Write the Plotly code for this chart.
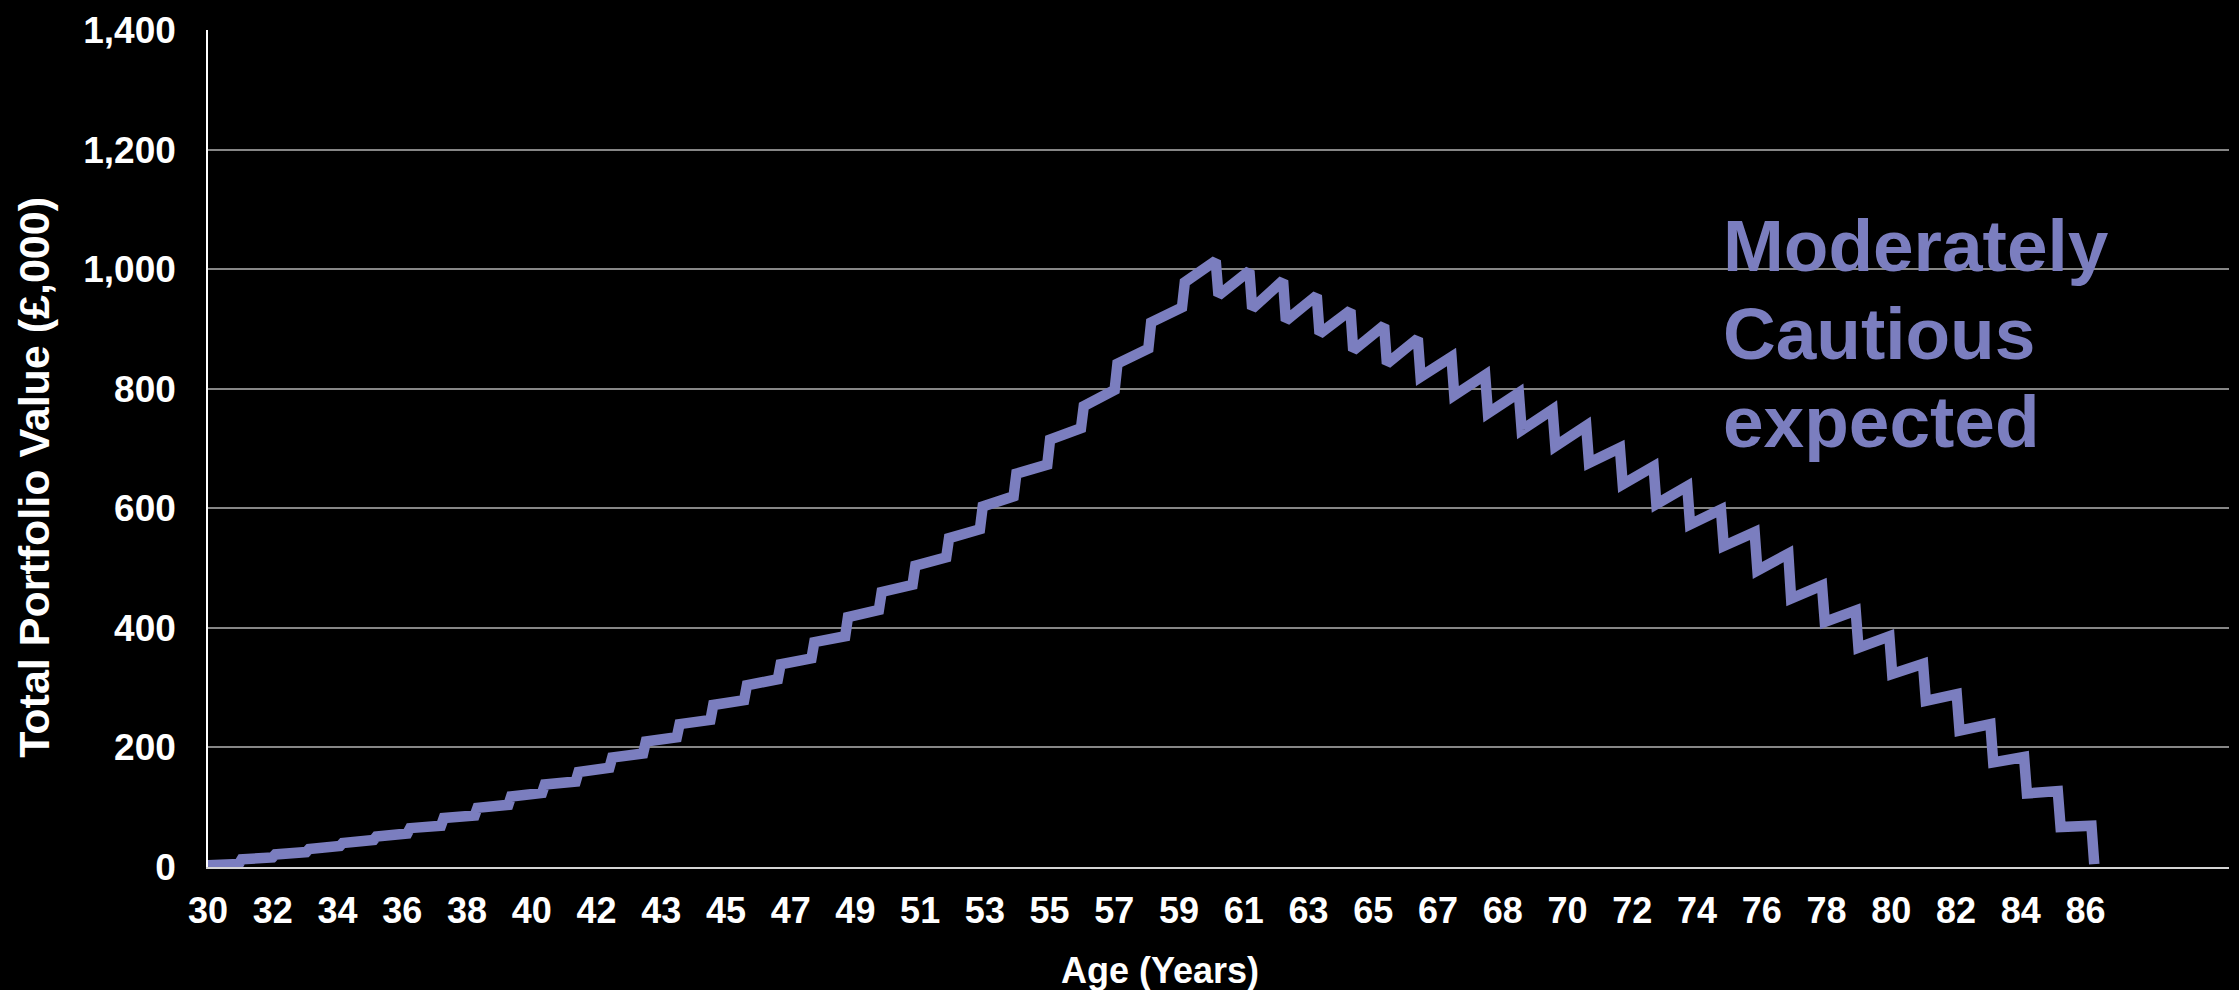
import plotly.graph_objects as go

# Portfolio value (£,000) for each year of age: value just after the annual
# contribution / withdrawal, and value at the end of that year.
ages = list(range(30, 86))
year_start = [
    3, 13, 21, 30, 40, 51, 65, 82, 99, 118,
    138, 159, 183, 210, 239, 271, 304, 339, 376, 418,
    460, 504, 550, 603, 658, 715, 771, 842, 911, 978,
    956, 934, 914, 892, 864, 842, 820, 789, 759, 731,
    704, 676, 640, 607, 573, 537, 496, 449, 410, 367,
    323, 278, 228, 175, 123, 67,
]
year_end = [
    5, 16, 25, 35, 45, 56, 69, 86, 104, 124,
    143, 166, 190, 217, 246, 279, 314, 349, 386, 430,
    472, 518, 565, 620, 673, 734, 798, 867, 936, 1014,
    997, 981, 956, 931, 906, 884, 853, 823, 793, 765,
    738, 701, 670, 637, 598, 560, 524, 471, 429, 386,
    340, 289, 239, 184, 127, 69,
]
final_age = 86
final_value = 5

# Category-axis labels shown along the age axis
tick_labels = ["30", "32", "34", "36", "38", "40", "42", "43", "45", "47",
               "49", "51", "53", "55", "57", "59", "61", "63", "65", "67",
               "68", "70", "72", "74", "76", "78", "80", "82", "84", "86"]
y_ticks = [0, 200, 400, 600, 800, 1000, 1200, 1400]

# Series caption, one line per entry
caption_lines = ["Moderately", "Cautious", "expected"]

LINE = "#7b7ebf"
FONT = "Liberation Sans, Arial, sans-serif"
LABEL_STEP = 1.922  # years between successive age labels

# Monthly path: growth over the year, then a one-month jump at each birthday
xs, ys = [], []
for a, s, e in zip(ages, year_start, year_end):
    xs += [a, a + 11 / 12]
    ys += [s, e]
xs.append(final_age)
ys.append(final_value)

fig = go.Figure()
fig.add_trace(go.Scatter(
    x=xs, y=ys, mode="lines",
    line=dict(color=LINE, width=10.5),
    hoverinfo="skip", showlegend=False,
))

annotations = [
    dict(
        text="Age (Years)", xref="paper", yref="paper",
        x=0.471, y=-0.124, xanchor="center", yanchor="middle",
        showarrow=False,
        font=dict(family=FONT, size=36, color="white", weight="bold"),
    ),
    dict(
        text="Total Portfolio Value (£,000)", xref="paper", yref="paper",
        x=-0.0862, y=0.466, xanchor="center", yanchor="middle",
        textangle=-90, showarrow=False,
        font=dict(family=FONT, size=43, color="white", weight="bold"),
    ),
]
for line_text, ypos in zip(caption_lines, [0.743, 0.637, 0.532]):
    annotations.append(dict(
        text=line_text, xref="paper", yref="paper",
        x=0.7485, y=ypos, xanchor="left", yanchor="middle",
        align="left", showarrow=False,
        font=dict(family=FONT, size=73, color=LINE, weight="bold"),
    ))

fig.update_layout(
    width=2239, height=990,
    margin=dict(l=208, r=10, t=26, b=123),
    paper_bgcolor="black", plot_bgcolor="black",
    font=dict(family=FONT, color="white", size=36, weight="bold"),
    xaxis=dict(
        range=[30, 90],
        tickvals=[30 + i * LABEL_STEP for i in range(len(tick_labels))],
        ticktext=tick_labels,
        showgrid=False, zeroline=False,
        showline=True, linecolor="#d4d4d4", linewidth=2,
        ticks="outside", ticklen=11, tickcolor="rgba(0,0,0,0)",
        tickfont=dict(family=FONT, size=36, color="white", weight="bold"),
        layer="below traces",
    ),
    yaxis=dict(
        range=[0, 1400],
        tickvals=y_ticks,
        tickformat=",d",
        showgrid=True, gridcolor="#868686", gridwidth=1.5,
        zeroline=False,
        showline=True, linecolor="white", linewidth=1.5,
        ticks="outside", ticklen=23, tickcolor="rgba(0,0,0,0)",
        tickfont=dict(family=FONT, size=37, color="white", weight="bold"),
        layer="below traces",
    ),
    annotations=annotations,
)

fig.write_html("out.html")
